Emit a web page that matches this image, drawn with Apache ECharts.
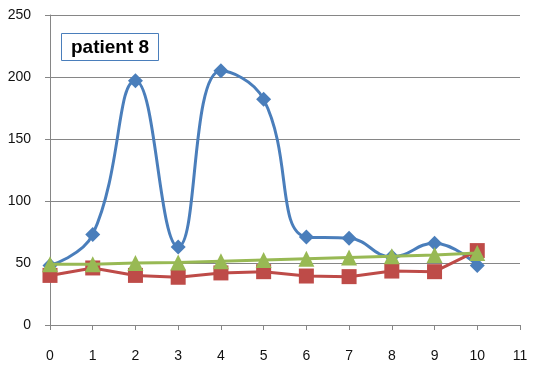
<!DOCTYPE html>
<html>
<head>
<meta charset="utf-8">
<script src="https://cdn.jsdelivr.net/npm/echarts@6/dist/echarts.min.js"></script>
<style>
  html, body { margin: 0; padding: 0; background: #fff; }
  #chart { width: 535px; height: 369px; }
</style>
</head>
<body>
<div id="chart"></div>
<script>
// Visit index (x) and measured values for patient 8
const visits = [0, 1, 2, 3, 4, 5, 6, 7, 8, 9, 10];
const blueValues = [48, 73, 197, 63, 205, 182, 71, 70, 55, 66, 48];
const redValues = [40, 46, 40, 38.5, 42, 43, 39.5, 39, 43.5, 43, 60];
const greenValues = [49, 49, 50, 50.5, 51.5, 52.5, 53.5, 54.5, 55.5, 56.5, 58];
const xTicks = [0, 1, 2, 3, 4, 5, 6, 7, 8, 9, 10, 11];
const yTicks = [0, 50, 100, 150, 200, 250];

const pairs = vals => visits.map((x, i) => [x, vals[i]]);

const BLUE = '#4A7EBB';
const RED = '#BE4B48';
const GREEN = '#98B954';
const AXIS = '#868686';
const labelFont = { fontFamily: 'Liberation Sans, Arial, sans-serif', fontSize: 14, color: '#111' };

const chart = echarts.init(document.getElementById('chart'), null, { renderer: 'canvas' });
chart.setOption({
  animation: false,
  backgroundColor: '#fff',
  title: {
    text: 'patient 8',
    left: 61,
    top: 33,
    padding: [5, 10, 4, 10],
    borderColor: BLUE,
    borderWidth: 1,
    backgroundColor: '#fff',
    textStyle: {
      fontFamily: 'Liberation Sans, Arial, sans-serif',
      fontWeight: 'bold',
      fontSize: 19,
      color: '#000'
    }
  },
  grid: { left: 50, right: 15, top: 15, bottom: 44, containLabel: false },
  xAxis: {
    type: 'value',
    min: xTicks[0],
    max: xTicks[xTicks.length - 1],
    interval: 1,
    axisLine: { show: true, onZero: false, lineStyle: { color: AXIS, width: 1 } },
    axisTick: { show: true, inside: false, length: 5, lineStyle: { color: AXIS } },
    axisLabel: Object.assign({ margin: 24 }, labelFont),
    splitLine: { show: false }
  },
  yAxis: {
    type: 'value',
    min: yTicks[0],
    max: yTicks[yTicks.length - 1],
    interval: 50,
    axisLine: { show: true, lineStyle: { color: AXIS, width: 1 } },
    axisTick: { show: true, length: 5, lineStyle: { color: AXIS } },
    axisLabel: Object.assign({ margin: 19 }, labelFont),
    splitLine: { show: true, lineStyle: { color: AXIS, width: 1 } }
  },
  series: [
    {
      type: 'line',
      data: pairs(blueValues),
      smooth: 0.45,
      symbol: 'diamond',
      symbolSize: 15,
      z: 2,
      lineStyle: { color: BLUE, width: 3 },
      itemStyle: { color: BLUE }
    },
    {
      type: 'line',
      data: pairs(redValues),
      smooth: false,
      symbol: 'rect',
      symbolSize: 15,
      z: 3,
      lineStyle: { color: RED, width: 3 },
      itemStyle: { color: RED }
    },
    {
      type: 'line',
      data: pairs(greenValues),
      smooth: false,
      symbol: 'triangle',
      symbolSize: 16,
      z: 4,
      lineStyle: { color: GREEN, width: 3 },
      itemStyle: { color: GREEN }
    }
  ]
});
</script>
</body>
</html>
